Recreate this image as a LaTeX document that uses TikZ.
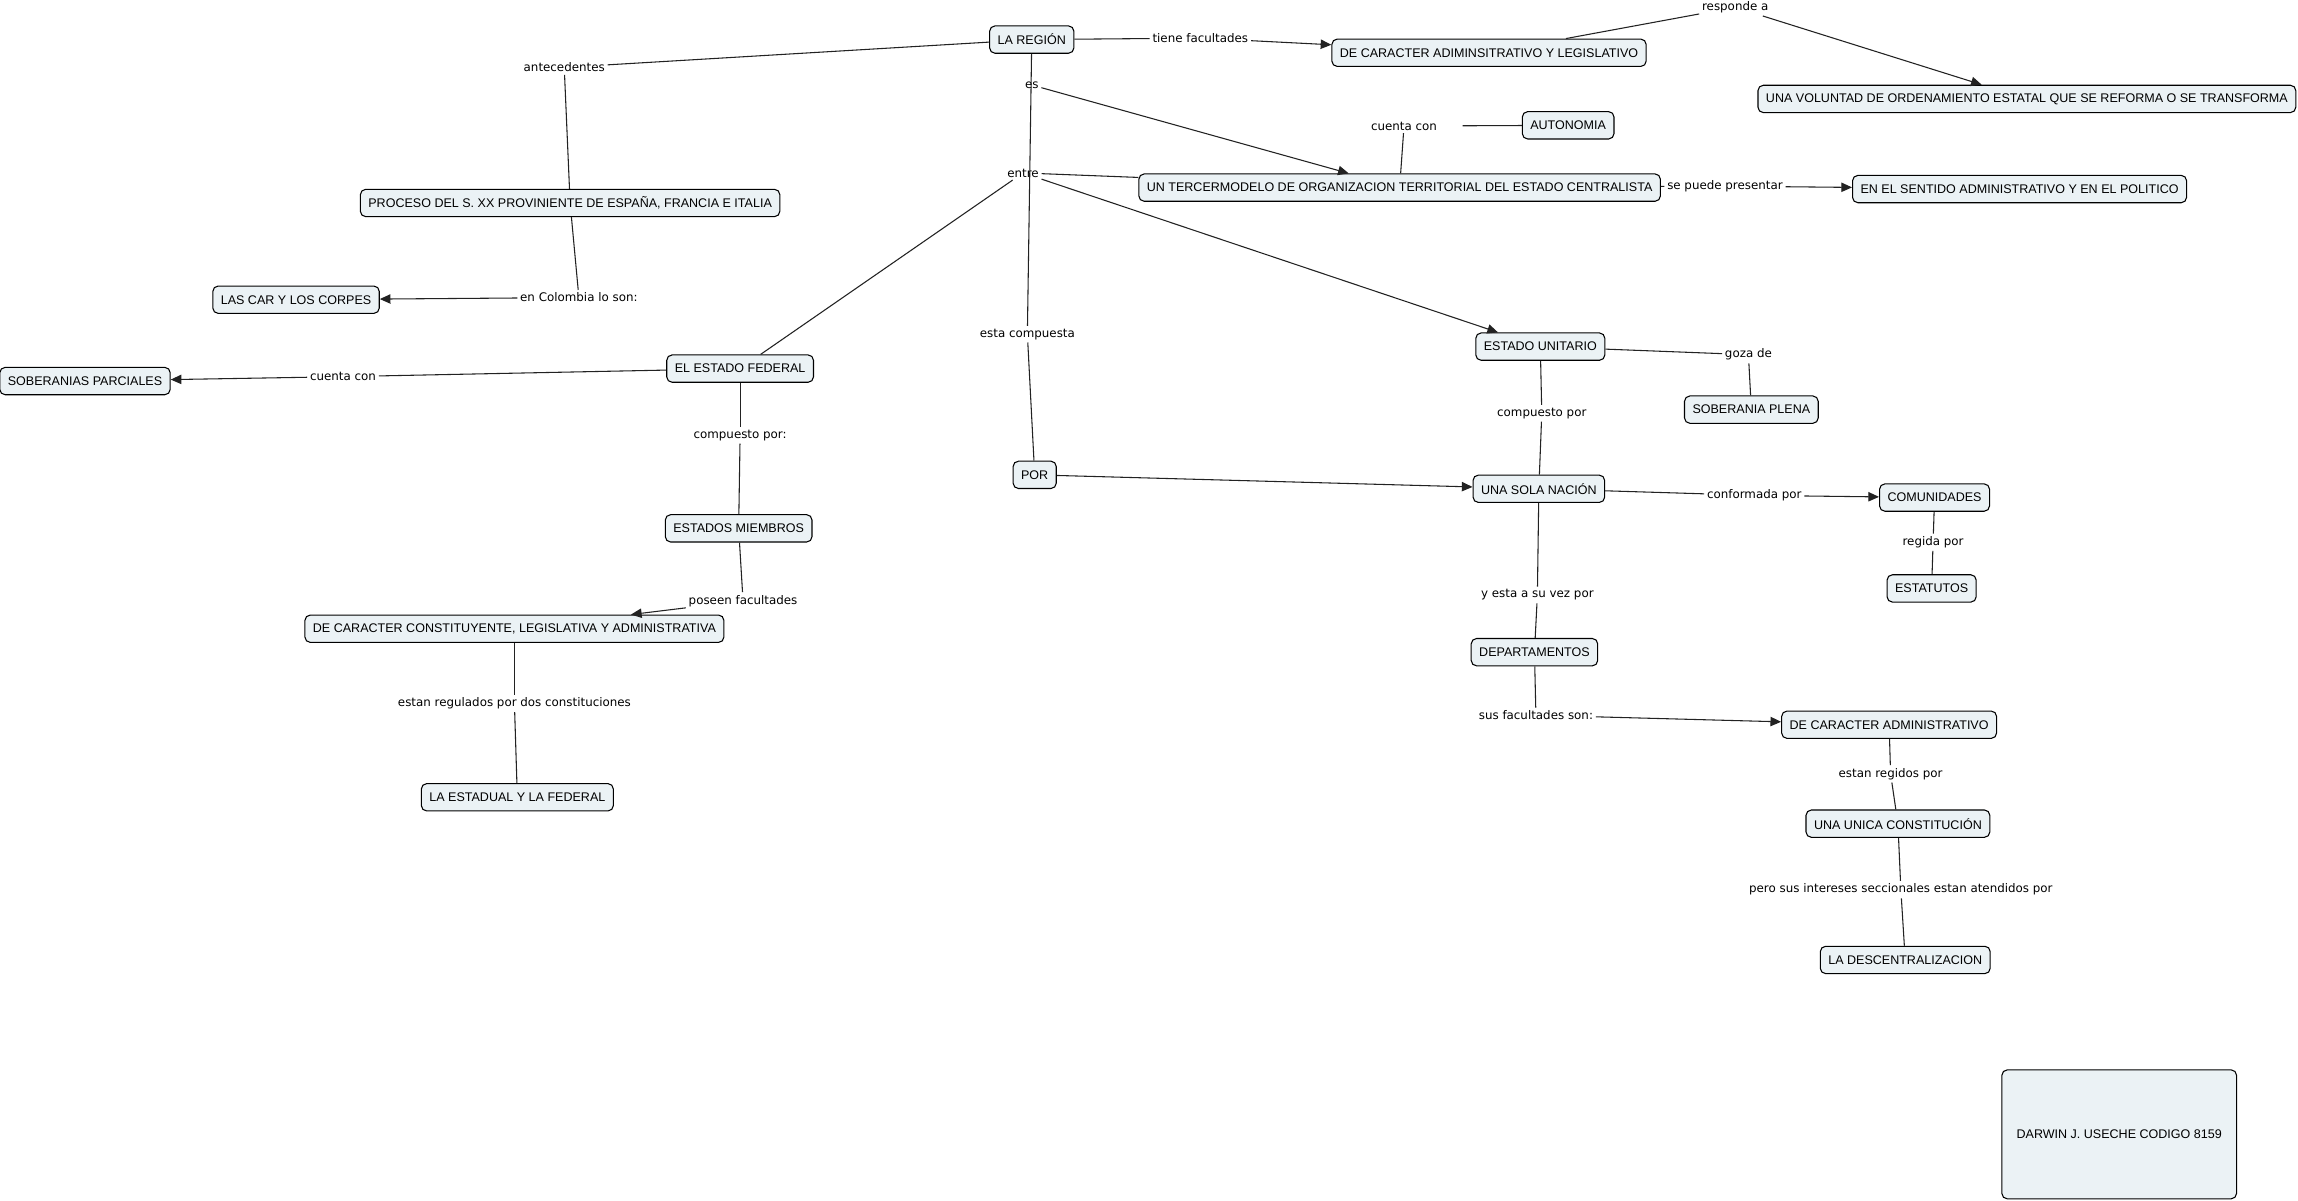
\documentclass[tikz,border=0pt]{standalone}
\usepackage{fontspec}
\setmainfont{Liberation Sans}
\newfontfamily\linkfont{DejaVu Sans}
\usetikzlibrary{arrows.meta}
\definecolor{cfill}{HTML}{EBF2F5}
\definecolor{cline}{HTML}{222222}
\begin{document}
\begin{tikzpicture}[x=1.0992pt,y=-1.0992pt,
  concept/.style={draw=black, line width=0.8pt, fill=cfill, rounded corners=4pt,
    inner xsep=6pt, inner ysep=0pt, minimum height=20.5pt,
    font=\fontsize{9.4}{11}\selectfont},
  lnk/.style={inner sep=2pt, font=\linkfont\fontsize{8.9}{10}\selectfont},
  con/.style={draw=cline, line width=0.8pt},
  arr/.style={con, -{Triangle[length=8pt,width=7pt]}}]
\useasboundingbox (0,0) rectangle (1568,819);
\fill[white] (0,0) rectangle (1568,819);

% concepts
\node[concept] (region) at (704,27) {LA REGIÓN};
\node[concept] (adimleg) at (1016,36) {DE CARACTER ADIMINSITRATIVO Y LEGISLATIVO};
\node[concept] (voluntad) at (1383,67.5) {UNA VOLUNTAD DE ORDENAMIENTO ESTATAL QUE SE REFORMA O SE TRANSFORMA};
\node[concept] (autonomia) at (1070,85.5) {AUTONOMIA};
\node[concept] (tercer) at (955,128) {UN TERCERMODELO DE ORGANIZACION TERRITORIAL DEL ESTADO CENTRALISTA};
\node[concept] (sentido) at (1378,129) {EN EL SENTIDO ADMINISTRATIVO Y EN EL POLITICO};
\node[concept] (proceso) at (389,138.5) {PROCESO DEL S. XX PROVINIENTE DE ESPAÑA, FRANCIA E ITALIA};
\node[concept] (car) at (202,204.5) {LAS CAR Y LOS CORPES};
\node[concept] (soberanias) at (58,260) {SOBERANIAS PARCIALES};
\node[concept] (federal) at (505,251.5) {EL ESTADO FEDERAL};
\node[concept] (unitario) at (1051,236.5) {ESTADO UNITARIO};
\node[concept] (plena) at (1195,279.5) {SOBERANIA PLENA};
\node[concept] (por) at (706,324) {POR};
\node[concept] (nacion) at (1050,333.5) {UNA SOLA NACIÓN};
\node[concept] (comunidades) at (1320,339.5) {COMUNIDADES};
\node[concept] (estatutos) at (1318,401.5) {ESTATUTOS};
\node[concept] (miembros) at (504,360.5) {ESTADOS MIEMBROS};
\node[concept] (constituyente) at (351,429) {DE CARACTER CONSTITUYENTE, LEGISLATIVA Y ADMINISTRATIVA};
\node[concept] (estadual) at (353,544) {LA ESTADUAL Y LA FEDERAL};
\node[concept] (deptos) at (1047,445) {DEPARTAMENTOS};
\node[concept] (admin) at (1289,494.5) {DE CARACTER ADMINISTRATIVO};
\node[concept] (unica) at (1295,562) {UNA UNICA CONSTITUCIÓN};
\node[concept] (descent) at (1300,655) {LA DESCENTRALIZACION};
\node[concept, minimum width=176pt, minimum height=96.7pt] (darwin) at (1446,774) {DARWIN J. USECHE CODIGO 8159};

% linking phrases
\node[lnk] (tiene) at (819,26) {tiene facultades};
\node[lnk] (responde) at (1184,5) {responde a};
\node[lnk] (antec) at (385,46) {antecedentes};
\node[lnk] (es) at (704,58) {es};
\node[lnk] (cuentaA) at (958,86) {cuenta con};
\node[lnk] (entre) at (698,118) {entre};
\node[lnk] (presentar) at (1177,127) {se puede presentar};
\node[lnk] (colombia) at (395,203) {en Colombia lo son:};
\node[lnk] (compuesta) at (701,228) {esta compuesta};
\node[lnk] (cuentaB) at (234,257) {cuenta con};
\node[lnk] (goza) at (1193,242) {goza de};
\node[lnk] (compF) at (505,297) {compuesto por:};
\node[lnk] (compU) at (1052,282) {compuesto por};
\node[lnk] (conformada) at (1197,338) {conformada por};
\node[lnk] (regida) at (1319,370) {regida por};
\node[lnk] (vez) at (1049,406) {y esta a su vez por};
\node[lnk] (poseen) at (507,410) {poseen facultades};
\node[lnk] (regulados) at (351,480) {estan regulados por dos constituciones};
\node[lnk] (susfac) at (1048,488) {sus facultades son:};
\node[lnk] (regidos) at (1290,528) {estan regidos por};
\node[lnk] (intereses) at (1297,607) {pero sus intereses seccionales estan atendidos por};

% connectors
\draw[con] (region) -- (tiene);
\draw[arr] (tiene) -- (adimleg);
\draw[con] (adimleg) -- (responde);
\draw[arr] (responde) -- (voluntad);
\draw[con] (region) -- (antec);
\draw[con] (antec) -- (proceso);
\draw[con] (proceso) -- (colombia);
\draw[arr] (colombia) -- (car);
\draw[con] (region) -- (compuesta);
\draw[con] (compuesta) -- (por);
\draw[arr] (por) -- (nacion);
\draw[arr] (es) -- (tercer);
\draw[con] (tercer) -- (cuentaA);
\draw[con, shorten <=17pt] (cuentaA) -- (autonomia);
\draw[con] (tercer) -- (entre);
\draw[con] (entre) -- (federal);
\draw[arr] (entre) -- (unitario);
\draw[con] (tercer) -- (presentar);
\draw[arr] (presentar) -- (sentido);
\draw[con] (federal) -- (cuentaB);
\draw[arr] (cuentaB) -- (soberanias);
\draw[con] (federal) -- (compF);
\draw[con] (compF) -- (miembros);
\draw[con] (miembros) -- (poseen);
\draw[arr] (poseen) -- (constituyente);
\draw[con] (constituyente) -- (regulados);
\draw[con] (regulados) -- (estadual);
\draw[con] (unitario) -- (goza);
\draw[con] (goza) -- (plena);
\draw[con] (unitario) -- (compU);
\draw[con] (compU) -- (nacion);
\draw[con] (nacion) -- (conformada);
\draw[arr] (conformada) -- (comunidades);
\draw[con] (comunidades) -- (regida);
\draw[con] (regida) -- (estatutos);
\draw[con] (nacion) -- (vez);
\draw[con] (vez) -- (deptos);
\draw[con] (deptos) -- (susfac);
\draw[arr] (susfac) -- (admin);
\draw[con] (admin) -- (regidos);
\draw[con] (regidos) -- (unica);
\draw[con] (unica) -- (intereses);
\draw[con] (intereses) -- (descent);
\end{tikzpicture}
\end{document}
